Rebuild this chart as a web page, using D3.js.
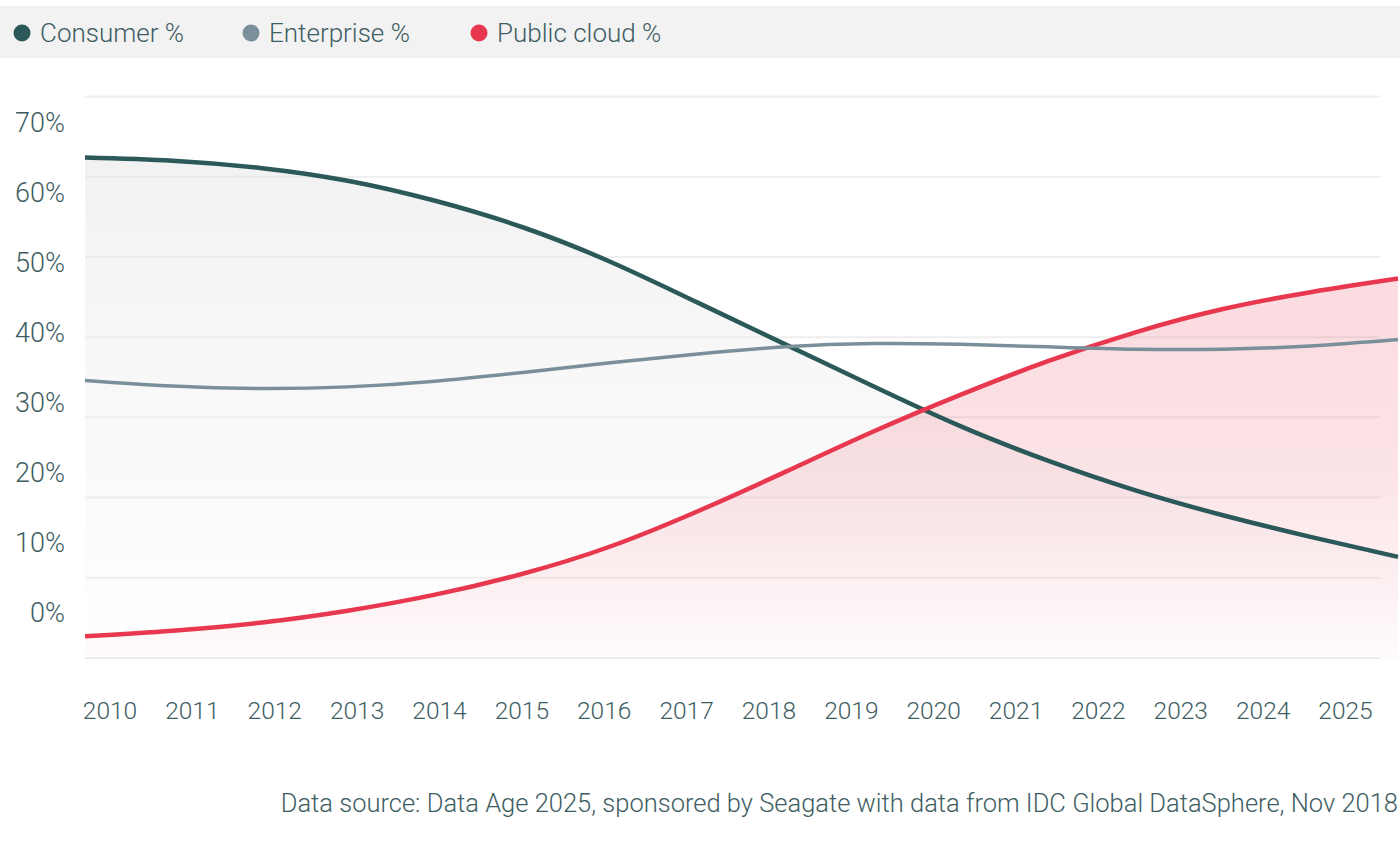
<!DOCTYPE html>
<html>
<head>
<meta charset="utf-8">
<script src="https://cdn.jsdelivr.net/npm/d3@7"></script>
<style>
  html, body { margin: 0; padding: 0; background: #ffffff; }
  svg { display: block; font-family: Roboto, "Open Sans", sans-serif; font-weight: 300; }
</style>
</head>
<body>
<svg id="chart" width="1400" height="849"></svg>
<script>
// ---- data ----
const years = [2010, 2011, 2012, 2013, 2014, 2015, 2016, 2017, 2018, 2019, 2020, 2021, 2022, 2023, 2024, 2025];
const consumer = [62.4, 62.0, 61.1, 59.5, 57.0, 53.7, 49.4, 44.3, 39.1, 33.9, 28.9, 24.6, 20.9, 17.8, 15.1, 12.6];
const enterprise = [34.6, 33.9, 33.6, 33.8, 34.5, 35.6, 36.8, 37.9, 38.8, 39.2, 39.1, 38.8, 38.5, 38.5, 38.9, 39.7];
const publicCloud = [2.7, 3.4, 4.4, 5.9, 7.9, 10.5, 13.9, 18.3, 23.2, 28.2, 32.8, 37.0, 40.6, 43.5, 45.6, 47.3];
const seriesNames = ["Consumer %", "Enterprise %", "Public cloud %"];
const seriesColors = ["#2b5959", "#7b8f9a", "#e8384f"];
const yTickValues = [0, 10, 20, 30, 40, 50, 60, 70];
const sourceText = "Data source: Data Age 2025, sponsored by Seagate with data from IDC Global DataSphere, Nov 2018";

const svg = d3.select("#chart");
const textColor = "#3e5d63";

// scales
const x = d3.scaleLinear().domain([2010, 2025]).range([85, 1398]);
const xLabel = d3.scaleLinear().domain([2010, 2025]).range([109.5, 1345]);
const y = d3.scaleLinear().domain([0, 70]).range([658, 96.5]);
const yLabel = d3.scaleLinear().domain([0, 70]).range([613, 123]);

// defs: gradients
const defs = svg.append("defs");
const gGray = defs.append("linearGradient").attr("id", "gradGray")
  .attr("gradientUnits", "userSpaceOnUse").attr("x1", 0).attr("x2", 0)
  .attr("y1", y(62.4)).attr("y2", y(0));
gGray.append("stop").attr("offset", "0%").attr("stop-color", "#e4e4e4").attr("stop-opacity", 0.5);
gGray.append("stop").attr("offset", "75%").attr("stop-color", "#eeeeee").attr("stop-opacity", 0.22);
gGray.append("stop").attr("offset", "100%").attr("stop-color", "#f4f4f4").attr("stop-opacity", 0.0);

const gPink = defs.append("linearGradient").attr("id", "gradPink")
  .attr("gradientUnits", "userSpaceOnUse").attr("x1", 0).attr("x2", 0)
  .attr("y1", y(47.3)).attr("y2", y(0));
gPink.append("stop").attr("offset", "0%").attr("stop-color", "#e8384f").attr("stop-opacity", 0.18);
gPink.append("stop").attr("offset", "50%").attr("stop-color", "#e8384f").attr("stop-opacity", 0.14);
gPink.append("stop").attr("offset", "100%").attr("stop-color", "#e8384f").attr("stop-opacity", 0.02);

// legend band
svg.append("rect").attr("x", 0).attr("y", 6).attr("width", 1400).attr("height", 52).attr("fill", "#f2f2f2");
const legendX = [22, 251, 479];
const legend = svg.append("g").selectAll("g").data(seriesNames).join("g")
  .attr("transform", (d, i) => `translate(${legendX[i]},33)`);
legend.append("circle").attr("r", 8.5).attr("fill", (d, i) => seriesColors[i]);
legend.append("text").attr("x", 18).attr("dy", "0.35em")
  .attr("font-size", 26).attr("fill", textColor).text(d => d);

// gridlines
svg.append("g").selectAll("line").data(yTickValues).join("line")
  .attr("x1", 85).attr("x2", 1380)
  .attr("y1", d => y(d)).attr("y2", d => y(d))
  .attr("stroke", "#eeeeee").attr("stroke-width", 2);

// y axis labels
const yAxis = d3.axisLeft(yLabel).tickValues(yTickValues).tickSize(0).tickPadding(0)
  .tickFormat(d => d + "%");
const yg = svg.append("g").attr("transform", "translate(65,0)").call(yAxis);
yg.select(".domain").remove();
yg.selectAll("text").attr("font-size", 27).attr("fill", textColor)
  .attr("font-family", "Roboto, 'Open Sans', sans-serif");

// x axis labels
const xAxis = d3.axisBottom(xLabel).tickValues(years).tickSize(0).tickPadding(0)
  .tickFormat(d3.format("d"));
const xg = svg.append("g").attr("transform", "translate(0,717)").call(xAxis);
xg.select(".domain").remove();
xg.selectAll("text").attr("font-size", 24.5).attr("fill", textColor)
  .attr("font-family", "Roboto, 'Open Sans', sans-serif").attr("dy", "0.1em");

// areas
const curve = d3.curveNatural;
const area = vals => d3.area().curve(curve)
  .x((d, i) => x(years[i])).y0(y(0)).y1(d => y(d))(vals);
const line = vals => d3.line().curve(curve)
  .x((d, i) => x(years[i])).y(d => y(d))(vals);

svg.append("path").attr("d", area(consumer)).attr("fill", "url(#gradGray)");
svg.append("path").attr("d", area(publicCloud)).attr("fill", "url(#gradPink)");

// lines
svg.append("path").attr("d", line(consumer)).attr("fill", "none")
  .attr("stroke", seriesColors[0]).attr("stroke-width", 4.5);
svg.append("path").attr("d", line(publicCloud)).attr("fill", "none")
  .attr("stroke", seriesColors[2]).attr("stroke-width", 4.5);
svg.append("path").attr("d", line(enterprise)).attr("fill", "none")
  .attr("stroke", seriesColors[1]).attr("stroke-width", 3.5);

// source
svg.append("text").attr("x", 1398).attr("y", 812).attr("text-anchor", "end")
  .attr("font-size", 25.5).attr("fill", textColor).text(sourceText);
</script>
</body>
</html>
